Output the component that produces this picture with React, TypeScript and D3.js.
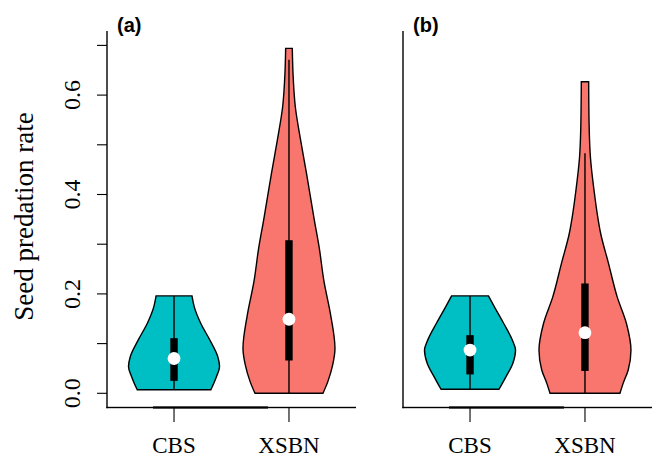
import React from 'react';
import * as d3 from 'd3';

// groups and panels
const groups = ['CBS', 'XSBN'];
const panelLabels = ['(a)', '(b)'];
const colors = ['#00BFC4', '#F8766D'];

const yTicks = [0, 0.1, 0.2, 0.3, 0.4, 0.5, 0.6, 0.7];
const yLabelTicks = [0, 0.2, 0.4, 0.6];

// violin outlines: rate -> relative density (max = 1)
const aCbsRate = [0.196, 0.174, 0.141, 0.107, 0.074, 0.054, 0.033, 0.007];
const aCbsDensity = [0.39, 0.44, 0.58, 0.78, 0.95, 0.99, 0.92, 0.8];
const aXsbnRate = [0.694, 0.645, 0.577, 0.509, 0.443, 0.349, 0.292, 0.225, 0.157, 0.09, 0.057, 0.023, 0];
const aXsbnDensity = [0.072, 0.087, 0.137, 0.254, 0.38, 0.55, 0.659, 0.761, 0.907, 1.0, 0.95, 0.843, 0.739];

const bCbsRate = [0.196, 0.174, 0.141, 0.107, 0.087, 0.06, 0.033, 0.008];
const bCbsDensity = [0.4, 0.53, 0.73, 0.92, 0.99, 0.93, 0.78, 0.63];
const bXsbnRate = [0.627, 0.54, 0.473, 0.406, 0.359, 0.322, 0.262, 0.194, 0.141, 0.087, 0.047, 0.02, 0];
const bXsbnDensity = [0.08, 0.09, 0.12, 0.2, 0.27, 0.34, 0.51, 0.7, 0.9, 1.0, 0.94, 0.83, 0.76];

// box stats: [whisker low, q1, median, q3, whisker high]
const aCbsBox = [0.007, 0.025, 0.07, 0.111, 0.196];
const aXsbnBox = [0, 0.066, 0.149, 0.308, 0.671];
const bCbsBox = [0.008, 0.038, 0.087, 0.117, 0.196];
const bXsbnBox = [0, 0.045, 0.122, 0.221, 0.483];

const panelData = [
  [
    { rate: aCbsRate, density: aCbsDensity, box: aCbsBox },
    { rate: aXsbnRate, density: aXsbnDensity, box: aXsbnBox },
  ],
  [
    { rate: bCbsRate, density: bCbsDensity, box: bCbsBox },
    { rate: bXsbnRate, density: bXsbnDensity, box: bXsbnBox },
  ],
];

const W = 654;
const H = 457;
const panelLeft = [107, 403];
const panelWidth = 249;
const plotTop = 31;
const plotBottom = 407.5;

const y = d3.scaleLinear().domain([0, 0.7]).range([393.3, 45.4]);
const halfWidth = d3.scaleLinear().domain([0, 1]).range([0, 46]);

const serif = '"Liberation Serif", "Times New Roman", serif';
const sans = '"Liberation Sans", Arial, sans-serif';

function Panel({ index }: { index: number }) {
  const left = panelLeft[index];
  const x = d3.scaleLinear().domain([0.417, 2.583]).range([left, left + panelWidth]);
  const violins = panelData[index];

  return (
    <g>
      {/* frame: left and bottom (bty = "l") */}
      <rect x={left - 0.7} y={plotTop} width={1.4} height={plotBottom - plotTop + 0.7} fill="#000" />
      <rect x={left - 0.7} y={plotBottom - 0.7} width={panelWidth + 0.7} height={1.4} fill="#000" />
      <rect x={x(0.817)} y={plotBottom - 1.1} width={x(1.817) - x(0.817)} height={2.2} fill="#000" />

      {index === 0 &&
        yTicks.map((t) => (
          <line key={t} x1={left - 10} x2={left} y1={y(t)} y2={y(t)} stroke="#000" strokeWidth={1.1} />
        ))}
      {index === 0 &&
        yLabelTicks.map((t) => (
          <text
            key={t}
            transform={`translate(80,${y(t)}) rotate(-90)`}
            textAnchor="middle"
            fontFamily={serif}
            fontSize={24}
            fill="#000"
          >
            {t.toFixed(1)}
          </text>
        ))}

      {groups.map((g, i) => (
        <g key={g}>
          <line x1={x(i + 1)} x2={x(i + 1)} y1={plotBottom} y2={plotBottom + 14.5} stroke="#000" strokeWidth={1.1} />
          <text x={x(i + 1)} y={453} textAnchor="middle" fontFamily={serif} fontSize={23} fill="#000">
            {g}
          </text>
        </g>
      ))}

      {violins.map((v, i) => {
        const cx = x(i + 1);
        const pts = v.rate.map((r, k) => [r, v.density[k]] as [number, number]);
        const area = d3
          .area<[number, number]>()
          .y((d) => y(d[0]))
          .x0((d) => cx - halfWidth(d[1]))
          .x1((d) => cx + halfWidth(d[1]))
          .curve(d3.curveMonotoneY);
        const sorted = [...pts].sort((a, b) => y(a[0]) - y(b[0]));
        const [lo, q1, med, q3, hi] = v.box;
        return (
          <g key={i}>
            <path d={area(sorted) || ''} fill={colors[i]} stroke="#000" strokeWidth={1.4} />
            <line x1={cx} x2={cx} y1={y(lo)} y2={y(hi)} stroke="#000" strokeWidth={1.4} />
            <rect x={cx - 3.7} width={7.4} y={y(q3)} height={y(q1) - y(q3)} fill="#000" />
            <circle cx={cx} cy={y(med)} r={6.4} fill="#fff" />
          </g>
        );
      })}

      <text x={left + 10} y={32} fontFamily={sans} fontWeight="bold" fontSize={20} fill="#000">
        {panelLabels[index]}
      </text>
    </g>
  );
}

export default function App() {
  return (
    <svg
      width={W}
      height={H}
      style={{ position: 'absolute', left: 0, top: 0, background: '#fff' }}
    >
      <text
        transform="translate(33,216.5) rotate(-90)"
        textAnchor="middle"
        fontFamily={serif}
        fontSize={27}
        fill="#000"
      >
        Seed predation rate
      </text>
      <Panel index={0} />
      <Panel index={1} />
    </svg>
  );
}
